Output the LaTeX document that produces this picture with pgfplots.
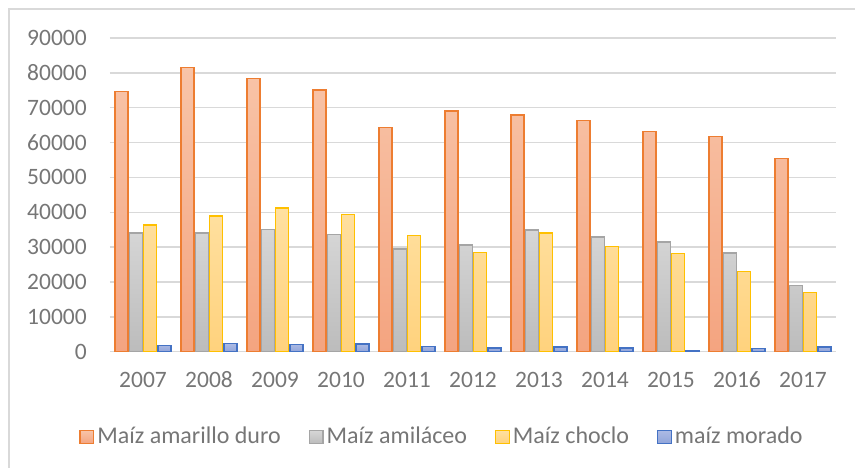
\documentclass[border=0pt]{standalone}
\usepackage{fontspec}
\setmainfont{Carlito}
\usepackage{pgfplots}
\pgfplotsset{compat=1.18}
\definecolor{txtgray}{RGB}{118,118,118}
\definecolor{gridgray}{RGB}{217,217,217}
\definecolor{orangeline}{RGB}{237,125,49}
\definecolor{orangetop}{RGB}{248,196,168}
\definecolor{orangebot}{RGB}{244,164,128}
\definecolor{grayline}{RGB}{165,165,165}
\definecolor{graytop}{RGB}{214,214,214}
\definecolor{graybot}{RGB}{188,188,188}
\definecolor{yellowline}{RGB}{255,192,0}
\definecolor{yellowtop}{RGB}{255,224,160}
\definecolor{yellowbot}{RGB}{255,210,125}
\definecolor{blueline}{RGB}{68,114,196}
\definecolor{bluetop}{RGB}{172,186,228}
\definecolor{bluebot}{RGB}{145,165,218}

\begin{document}
\fontsize{24}{28}\selectfont
\begin{tikzpicture}[x=1pt,y=1pt]
\useasboundingbox (0,0) rectangle (855,468);
\draw[gridgray, line width=1.4pt] (9,0) -- (9,459) -- (855,459);
\begin{axis}[
  at={(110pt,116.3pt)}, anchor=south west,
  scale only axis, width=726pt, height=313.7pt,
  ymin=0, ymax=90000, xmin=-0.5, xmax=10.5,
  ybar=1.3pt, bar width=13pt,
  ytick={0,10000,...,90000},
  xtick={0,...,10},
  xticklabels={2007,2008,2009,2010,2011,2012,2013,2014,2015,2016,2017},
  ymajorgrids, grid style={gridgray, line width=1.4pt},
  axis line style={draw=none},
  major tick length=0pt,
  scaled y ticks=false,
  /pgf/number format/1000 sep={},
  /pgf/number format/assume math mode=true,
  tick label style={font=\fontsize{23.5}{28}\selectfont, text=txtgray},
  yticklabel style={xshift=-15pt},
  xticklabel style={yshift=-13pt, text height=15pt, text depth=0pt},
  legend columns=4,
  legend style={at={(0.458,-0.272)}, anchor=center, draw=none, fill=none,
    font=\fontsize{24}{28}\selectfont, text=txtgray,
    /tikz/every even column/.append style={column sep=25pt},
    nodes={inner xsep=3pt}},
  legend image code/.code={\draw[#1, line width=1.4pt] (0pt,-6.5pt) rectangle (13.5pt,6.5pt);},
]
\addplot[draw=orangeline, line width=1.4pt, top color=orangetop, bottom color=orangebot]
  coordinates {(0,74600)(1,81500)(2,78400)(3,75100)(4,64300)(5,69100)(6,67900)(7,66300)(8,63200)(9,61700)(10,55400)};
\addlegendentry{Maíz amarillo duro}
\addplot[draw=grayline, line width=1.4pt, top color=graytop, bottom color=graybot]
  coordinates {(0,34000)(1,34000)(2,35000)(3,33700)(4,29500)(5,30600)(6,34900)(7,32900)(8,31500)(9,28300)(10,19000)};
\addlegendentry{Maíz amiláceo}
\addplot[draw=yellowline, line width=1.4pt, top color=yellowtop, bottom color=yellowbot]
  coordinates {(0,36300)(1,38900)(2,41200)(3,39400)(4,33300)(5,28400)(6,34100)(7,30200)(8,28100)(9,23000)(10,16900)};
\addlegendentry{Maíz choclo}
\addplot[draw=blueline, line width=1.4pt, top color=bluetop, bottom color=bluebot]
  coordinates {(0,1700)(1,2300)(2,2000)(3,2200)(4,1500)(5,1100)(6,1400)(7,1100)(8,400)(9,1000)(10,1400)};
\addlegendentry{maíz morado}
\end{axis}
\end{tikzpicture}
\end{document}
